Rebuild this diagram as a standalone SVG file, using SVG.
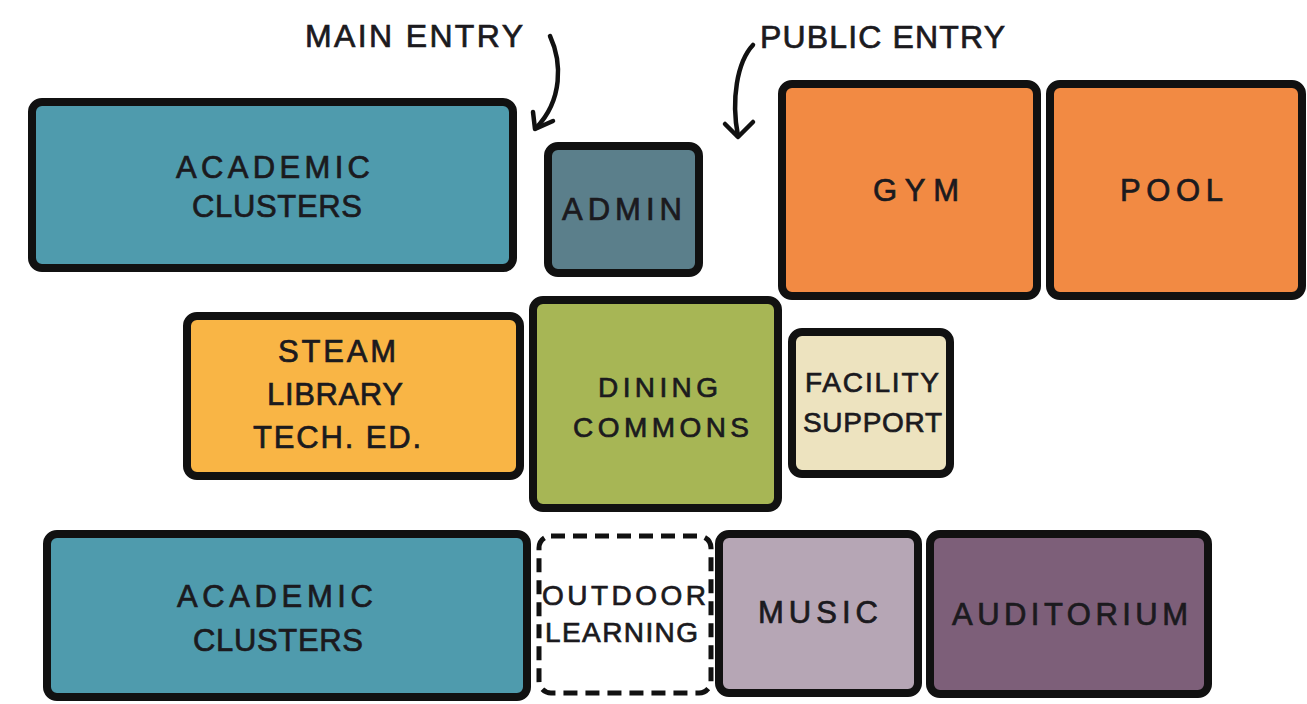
<svg xmlns="http://www.w3.org/2000/svg" width="1307" height="704" viewBox="0 0 1307 704">
<style>
.box{stroke:#111;stroke-width:8;stroke-linejoin:round}
.dash{fill:#fff;stroke:#111;stroke-width:5;stroke-dasharray:14 8}
.t{font-family:"Liberation Sans",Arial,sans-serif;font-size:31px;fill:#1b1a1e;stroke:#1b1a1e;stroke-width:0.7}
.s{font-size:28px}
.lab{font-size:32px}
.arr{fill:none;stroke:#111;stroke-width:4.5;stroke-linecap:round;stroke-linejoin:round}
</style>
<rect width="1307" height="704" fill="#fff"/>
<g id="connectors">
<path class="arr" d="M550 36 C562 62 563 100 536 128"/>
<path class="arr" d="M533 112 L535 129 L553 121"/>
<path class="arr" d="M753 45 C737 62 731 100 738 136"/>
<path class="arr" d="M725 124 L738 137 L753 122"/>
</g>
<g id="main-entry-label"><text class="t lab" x="305" y="47" textLength="218" lengthAdjust="spacing">MAIN ENTRY</text></g>
<g id="public-entry-label"><text class="t lab" x="760" y="48" textLength="245" lengthAdjust="spacing">PUBLIC ENTRY</text></g>
<g id="academic-top">
<rect class="box" x="32" y="102" width="481" height="166" rx="10" fill="#4f9bad"/>
<text class="t" x="176" y="178" textLength="194" lengthAdjust="spacing">ACADEMIC</text>
<text class="t" x="192" y="217" textLength="170" lengthAdjust="spacing">CLUSTERS</text>
</g>
<g id="admin">
<rect class="box" x="548" y="146" width="151" height="127" rx="10" fill="#5b7f8b"/>
<text class="t" x="562" y="220" textLength="120" lengthAdjust="spacing">ADMIN</text>
</g>
<g id="gym">
<rect class="box" x="782" y="84" width="255" height="212" rx="10" fill="#f28a43"/>
<text class="t" x="873" y="201" textLength="86" lengthAdjust="spacing">GYM</text>
</g>
<g id="pool">
<rect class="box" x="1050" y="84" width="252" height="212" rx="10" fill="#f28a43"/>
<text class="t" x="1120" y="201" textLength="103" lengthAdjust="spacing">POOL</text>
</g>
<g id="steam">
<rect class="box" x="187" y="316" width="333" height="160" rx="10" fill="#f9b545"/>
<text class="t" x="278" y="362" textLength="118" lengthAdjust="spacing">STEAM</text>
<text class="t" x="267" y="405" textLength="136" lengthAdjust="spacing">LIBRARY</text>
<text class="t" x="253" y="448" textLength="168" lengthAdjust="spacing">TECH. ED.</text>
</g>
<g id="dining">
<rect class="box" x="533" y="300" width="245" height="208" rx="10" fill="#a7b655"/>
<text class="t s" x="598" y="397" textLength="120" lengthAdjust="spacing">DINING</text>
<text class="t s" x="573" y="437" textLength="176" lengthAdjust="spacing">COMMONS</text>
</g>
<g id="facility">
<rect class="box" x="792" y="332" width="158" height="142" rx="10" fill="#ede3bf"/>
<text class="t s" x="805" y="392" textLength="134" lengthAdjust="spacing">FACILITY</text>
<text class="t s" x="803" y="432" textLength="139" lengthAdjust="spacing">SUPPORT</text>
</g>
<g id="academic-bottom">
<rect class="box" x="47" y="534" width="480" height="163" rx="10" fill="#4f9bad"/>
<text class="t" x="177" y="607" textLength="196" lengthAdjust="spacing">ACADEMIC</text>
<text class="t" x="193" y="651" textLength="170" lengthAdjust="spacing">CLUSTERS</text>
</g>
<g id="outdoor">
<rect class="dash" x="539" y="536" width="172" height="157" rx="12"/>
<text class="t s" x="542" y="605" textLength="164" lengthAdjust="spacing">OUTDOOR</text>
<text class="t s" x="545" y="642" textLength="153" lengthAdjust="spacing">LEARNING</text>
</g>
<g id="music">
<rect class="box" x="719" y="534" width="199" height="159" rx="10" fill="#b6a6b5"/>
<text class="t" x="758" y="623" textLength="120" lengthAdjust="spacing">MUSIC</text>
</g>
<g id="auditorium">
<rect class="box" x="930" y="534" width="278" height="160" rx="10" fill="#7d5f79"/>
<text class="t" x="952" y="625" textLength="236" lengthAdjust="spacing">AUDITORIUM</text>
</g>
</svg>
